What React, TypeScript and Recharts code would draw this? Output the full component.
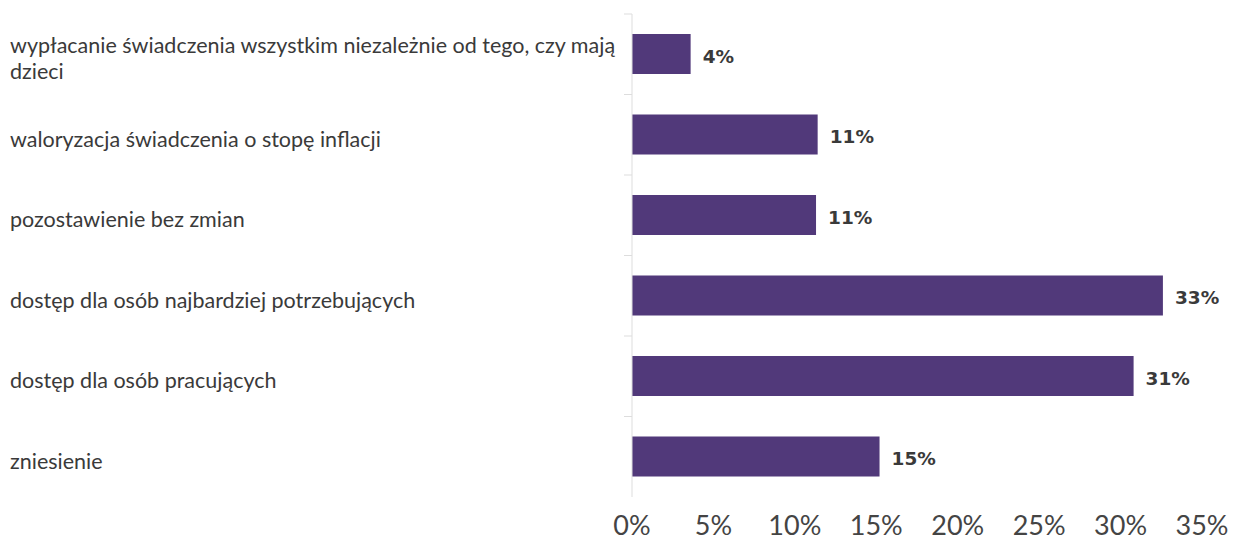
import React from 'react';
import { BarChart, Bar, XAxis, YAxis } from 'recharts';

const categories = [
  'wypłacanie świadczenia wszystkim niezależnie od tego, czy mają dzieci',
  'waloryzacja świadczenia o stopę inflacji',
  'pozostawienie bez zmian',
  'dostęp dla osób najbardziej potrzebujących',
  'dostęp dla osób pracujących',
  'zniesienie',
];
const values = [3.6, 11.4, 11.3, 32.6, 30.8, 15.2];
const valueLabels = ['4%', '11%', '11%', '33%', '31%', '15%'];
const xTicks = [0, 5, 10, 15, 20, 25, 30, 35];

const data = categories.map((c, i) => ({ cat: c, pct: values[i], txt: valueLabels[i] }));

const W = 1234;
const H = 540;
const YAXIS_W = 632;
const MAX_CHARS = 62;

function wrap(text: string, max: number): string[] {
  const words = text.split(' ');
  const lines: string[] = [];
  let cur = '';
  for (const w of words) {
    const next = cur ? cur + ' ' + w : w;
    if (next.length > max && cur) {
      lines.push(cur);
      cur = w;
    } else {
      cur = next;
    }
  }
  if (cur) lines.push(cur);
  return lines;
}

const YTick = (props: any) => {
  const { y, payload } = props;
  const lines = wrap(String(payload.value), MAX_CHARS);
  const half = payload.offset || 40;
  const n = lines.length;
  return (
    <g>
      <line x1={YAXIS_W - 8} x2={YAXIS_W} y1={y - half} y2={y - half} stroke="#dddddd" strokeWidth={1} />
      <text x={10} y={y} textAnchor="start" fontFamily="Lato" fontSize={21.5} fill="#3a3a3a">
        {lines.map((l, i) => (
          <tspan key={i} x={10} y={y + 4 + (i - (n - 1) / 2) * 26} dominantBaseline="central">
            {l}
          </tspan>
        ))}
      </text>
    </g>
  );
};

const renderValueLabel = (props: any) => {
  const { x, y, width, height, index } = props;
  return (
    <text
      x={Number(x) + Number(width) + 12}
      y={Number(y) + Number(height) / 2 + 2}
      dominantBaseline="central"
      textAnchor="start"
      fill="#3a3a3a"
      fontFamily="DejaVu Sans"
      fontWeight="bold"
      fontSize={18.5}
    >
      {valueLabels[index]}
    </text>
  );
};

export default function App() {
  return (
    <div style={{ position: 'absolute', left: 0, top: 0, background: '#fff' }}>
      <BarChart
        width={W}
        height={H}
        data={data}
        layout="vertical"
        margin={{ top: 14, right: 32, bottom: 0, left: 0 }}
      >
        <XAxis
          type="number"
          dataKey="pct"
          domain={[0, 35]}
          ticks={xTicks}
          tickFormatter={(v: number) => `${v}%`}
          axisLine={false}
          tickLine={false}
          height={43}
          tickMargin={13}
          tick={{ fontFamily: 'Lato', fontSize: 27, fill: '#444444' }}
          interval={0}
        />
        <YAxis
          type="category"
          dataKey="cat"
          width={YAXIS_W}
          axisLine={{ stroke: '#dddddd' }}
          tickLine={false}
          tick={<YTick />}
          interval={0}
        />
        <Bar dataKey="pct" fill="#51397a" barSize={40} isAnimationActive={false} label={renderValueLabel} />
      </BarChart>
    </div>
  );
}
